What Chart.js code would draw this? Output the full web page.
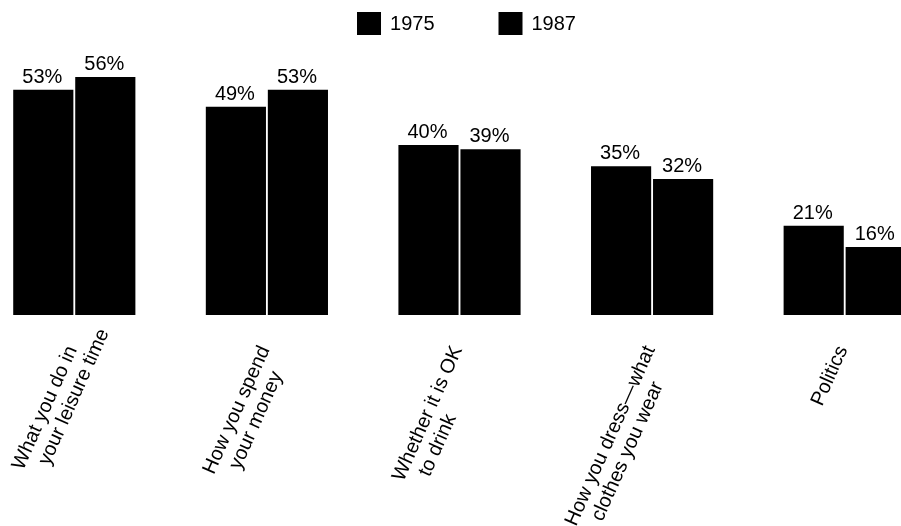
<!DOCTYPE html>
<html>
<head>
<meta charset="utf-8">
<script src="https://cdn.jsdelivr.net/npm/chart.js@4"></script>
<style>
  html, body { margin: 0; padding: 0; background: #fff; overflow: hidden; }
  #wrap { position: absolute; left: -22px; top: 0; width: 963px; height: 526px; }
</style>
</head>
<body>
<div id="wrap"><canvas id="chart"></canvas></div>
<script>
// ─── data ─────────────────────────────────────────────
const topics = [
  ['What you do in', 'your leisure time'],
  ['How you spend', 'your money'],
  ['Whether it is OK', 'to drink'],
  ['How you dress\u2014what', 'clothes you wear'],
  ['Politics']
];
const years = ['1975', '1987'];
const pct1975 = [53, 49, 40, 35, 21];
const pct1987 = [56, 53, 39, 32, 16];

const FONT = '20px "Liberation Sans", Arial, sans-serif';
const ANGLE = -66 * Math.PI / 180;

// value labels above each bar
const valueLabels = {
  id: 'valueLabels',
  afterDatasetsDraw(chart) {
    const ctx = chart.ctx;
    ctx.save();
    ctx.fillStyle = '#000';
    ctx.font = FONT;
    ctx.textAlign = 'center';
    ctx.textBaseline = 'alphabetic';
    chart.data.datasets.forEach((ds, i) => {
      chart.getDatasetMeta(i).data.forEach((bar, j) => {
        ctx.fillText(ds.data[j] + '%', bar.x - 1, bar.y - 7);
      });
    });
    ctx.restore();
  }
};

// slanted, left-aligned category labels under the x scale
const slantLabels = {
  id: 'slantLabels',
  afterDraw(chart) {
    const ctx = chart.ctx, sx = chart.scales.x;
    ctx.save();
    ctx.fillStyle = '#000';
    ctx.font = FONT;
    ctx.textBaseline = 'middle';
    chart.data.labels.forEach((lines, i) => {
      const x = sx.getPixelForTick(i) - 2;
      const y = sx.top + 32;
      ctx.save();
      ctx.translate(x, y);
      ctx.rotate(ANGLE);
      const w1 = ctx.measureText(lines[0]).width;
      ctx.textAlign = 'right';
      ctx.fillText(lines[0], 0, 0);
      ctx.textAlign = 'left';
      for (let k = 1; k < lines.length; k++) {
        ctx.fillText(lines[k], -w1 + 15 * k, 22 * k);
      }
      ctx.restore();
    });
    ctx.restore();
  }
};

// legend row at the top
const topLegend = {
  id: 'topLegend',
  afterDraw(chart) {
    const ctx = chart.ctx;
    const box = 24, gapText = 9, gapItem = 64;
    ctx.save();
    ctx.font = FONT;
    ctx.textBaseline = 'middle';
    ctx.textAlign = 'left';
    const items = chart.data.datasets.map(d => ({ text: d.label, color: d.backgroundColor, w: ctx.measureText(d.label).width }));
    const total = items.reduce((s, it) => s + box + gapText + it.w, 0) + gapItem * (items.length - 1);
    let x = chart.width / 2 + 7 - total / 2;
    const y = 12;
    items.forEach(it => {
      ctx.fillStyle = it.color;
      ctx.fillRect(x, y, box, box - 1);
      ctx.fillStyle = '#000';
      ctx.fillText(it.text, x + box + gapText, y + box / 2);
      x += box + gapText + it.w + gapItem;
    });
    ctx.restore();
  }
};

new Chart(document.getElementById('chart'), {
  type: 'bar',
  data: {
    labels: topics,
    datasets: [
      { label: years[0], data: pct1975, backgroundColor: '#000' },
      { label: years[1], data: pct1987, backgroundColor: '#000' }
    ]
  },
  options: {
    responsive: true,
    maintainAspectRatio: false,
    animation: false,
    categoryPercentage: 0.644,
    barPercentage: 0.97,
    layout: { padding: { top: 60, left: 0, right: 0, bottom: 0 } },
    plugins: {
      tooltip: { enabled: false },
      legend: { display: false }
    },
    scales: {
      x: {
        grid: { display: false, drawTicks: false },
        border: { display: false },
        ticks: { display: false },
        afterFit: s => { s.height = 211; }
      },
      y: {
        display: false,
        min: 0,
        max: 60
      }
    }
  },
  plugins: [valueLabels, slantLabels, topLegend]
});
</script>
</body>
</html>
